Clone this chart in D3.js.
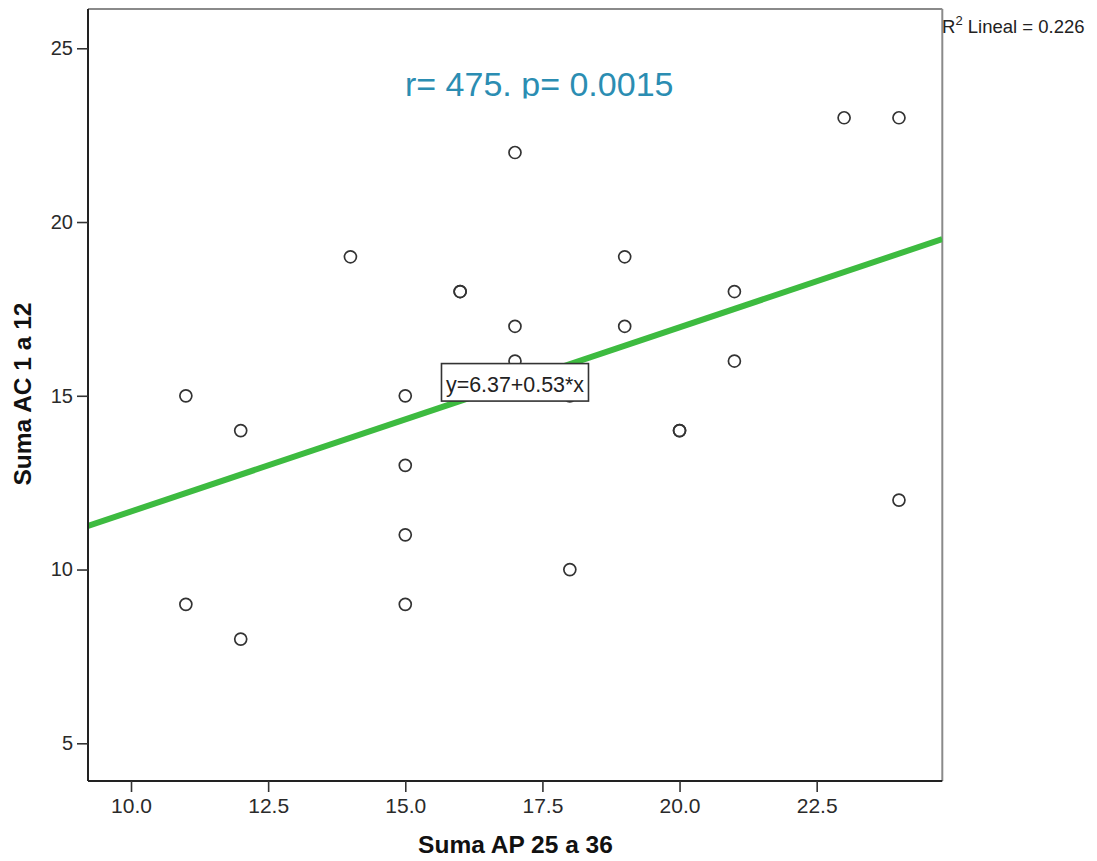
<!DOCTYPE html>
<html>
<head>
<meta charset="utf-8">
<script src="https://cdn.jsdelivr.net/npm/d3@7"></script>
<style>
  html, body { margin: 0; padding: 0; background: #fff; }
  svg { display: block; font-family: "Liberation Sans", Arial, sans-serif; }
</style>
</head>
<body>
<svg id="chart" width="1097" height="861"></svg>
<script>
// ---- data ----
const xValues = [11, 11, 12, 12, 14, 15, 15, 15, 15, 16, 16, 17, 17, 17, 18, 18, 19, 19, 20, 20, 21, 21, 23, 24, 24];
const yValues = [15,  9, 14,  8, 19, 15, 13, 11,  9, 18, 18, 22, 17, 16, 15, 10, 19, 17, 14, 14, 18, 16, 23, 23, 12];
const xTicks = [10.0, 12.5, 15.0, 17.5, 20.0, 22.5];
const yTicks = [5, 10, 15, 20, 25];
const fitIntercept = 6.37;
const fitSlope = 0.53;
const fitLabelX = 17;
const rSquared = 0.226;
const titleText = "r= 475. p= 0.0015";
const xTitle = "Suma AP 25 a 36";
const yTitle = "Suma AC 1 a 12";

// ---- layout ----
const L = 88, R = 942.3, T = 9, B = 781;
const svg = d3.select("#chart");
const x = d3.scaleLinear().domain([9.216, 24.79]).range([L, R]);
const y = d3.scaleLinear().domain([3.915, 26.13]).range([B, T]);

svg.append("defs").append("clipPath").attr("id", "plotclip")
  .append("rect").attr("x", L).attr("y", T).attr("width", R - L).attr("height", B - T);
svg.append("defs").append("clipPath").attr("id", "titleclip")
  .append("rect").attr("x", 0).attr("y", 0).attr("width", 1097).attr("height", 98.5);

// frame: top & right in gray
svg.append("line").attr("x1", L).attr("x2", R).attr("y1", T).attr("y2", T)
  .attr("stroke", "#8a8a8a").attr("stroke-width", 2);
svg.append("line").attr("x1", R).attr("x2", R).attr("y1", T).attr("y2", B)
  .attr("stroke", "#8a8a8a").attr("stroke-width", 2);

// fit line
const plot = svg.append("g").attr("clip-path", "url(#plotclip)");
const fx = x.domain();
plot.append("line")
  .attr("x1", x(fx[0])).attr("y1", y(fitIntercept + fitSlope * fx[0]))
  .attr("x2", x(fx[1])).attr("y2", y(fitIntercept + fitSlope * fx[1]))
  .attr("stroke", "#3dbb40").attr("stroke-width", 6);

// points
plot.selectAll("circle.pt").data(xValues.map((v, i) => [v, yValues[i]]))
  .enter().append("circle").attr("class", "pt")
  .attr("cx", d => x(d[0])).attr("cy", d => y(d[1])).attr("r", 6)
  .attr("fill", "none").attr("stroke", "#333").attr("stroke-width", 1.7);

// axes
const xAxis = d3.axisBottom(x).tickValues(xTicks).tickFormat(d3.format(".1f"))
  .tickSizeOuter(0).tickSizeInner(11).tickPadding(6);
const gx = svg.append("g").attr("transform", `translate(0,${B})`).call(xAxis);
gx.select(".domain").attr("d", `M${L},0H${R}`).attr("stroke", "#222").attr("stroke-width", 2);
gx.selectAll(".tick line").attr("stroke", "#333").attr("stroke-width", 1.6);
gx.selectAll(".tick text").attr("font-size", 21).attr("fill", "#2a2a2a")
  .attr("font-family", "'Liberation Sans', Arial, sans-serif");

const yAxis = d3.axisLeft(y).tickValues(yTicks).tickFormat(d3.format("d"))
  .tickSizeOuter(0).tickSizeInner(11).tickPadding(4);
const gy = svg.append("g").attr("transform", `translate(${L},0)`).call(yAxis);
gy.select(".domain").attr("d", `M0,${T}V${B}`).attr("stroke", "#222").attr("stroke-width", 2);
gy.selectAll(".tick line").attr("stroke", "#333").attr("stroke-width", 1.6);
gy.selectAll(".tick text").attr("font-size", 20).attr("fill", "#2a2a2a")
  .attr("font-family", "'Liberation Sans', Arial, sans-serif");

// equation label box
const eqX = x(fitLabelX), eqY = y(fitIntercept + fitSlope * fitLabelX);
const eqG = svg.append("g");
eqG.append("rect").attr("x", eqX - 73.5).attr("y", eqY - 19)
  .attr("width", 147).attr("height", 37.5)
  .attr("fill", "#fff").attr("stroke", "#333").attr("stroke-width", 1.6);
eqG.append("text").attr("x", eqX).attr("y", eqY + 9)
  .attr("text-anchor", "middle").attr("font-size", 22).attr("fill", "#222")
  .attr("textLength", 138).attr("lengthAdjust", "spacingAndGlyphs")
  .text(`y=${fitIntercept}+${fitSlope}*x`);

// title annotation (clipped at bottom as in the reference)
svg.append("text").attr("clip-path", "url(#titleclip)")
  .attr("x", 405).attr("y", 96).attr("font-size", 34).attr("fill", "#2b8db2")
  .text(titleText);

// R² label
const r2 = svg.append("text").attr("x", 942).attr("y", 33).attr("font-size", 18.5).attr("fill", "#222");
r2.append("tspan").text("R");
r2.append("tspan").attr("font-size", 13).attr("dy", -8).text("2");
r2.append("tspan").attr("dy", 8).text(` Lineal = ${rSquared}`);

// axis titles
svg.append("text").attr("x", 515.5).attr("y", 853).attr("text-anchor", "middle")
  .attr("font-size", 24.5).attr("font-weight", "bold").attr("fill", "#111")
  .text(xTitle);
svg.append("text").attr("transform", "translate(31,394) rotate(-90)")
  .attr("text-anchor", "middle").attr("font-size", 24.5).attr("font-weight", "bold").attr("fill", "#111")
  .text(yTitle);
</script>
</body>
</html>
